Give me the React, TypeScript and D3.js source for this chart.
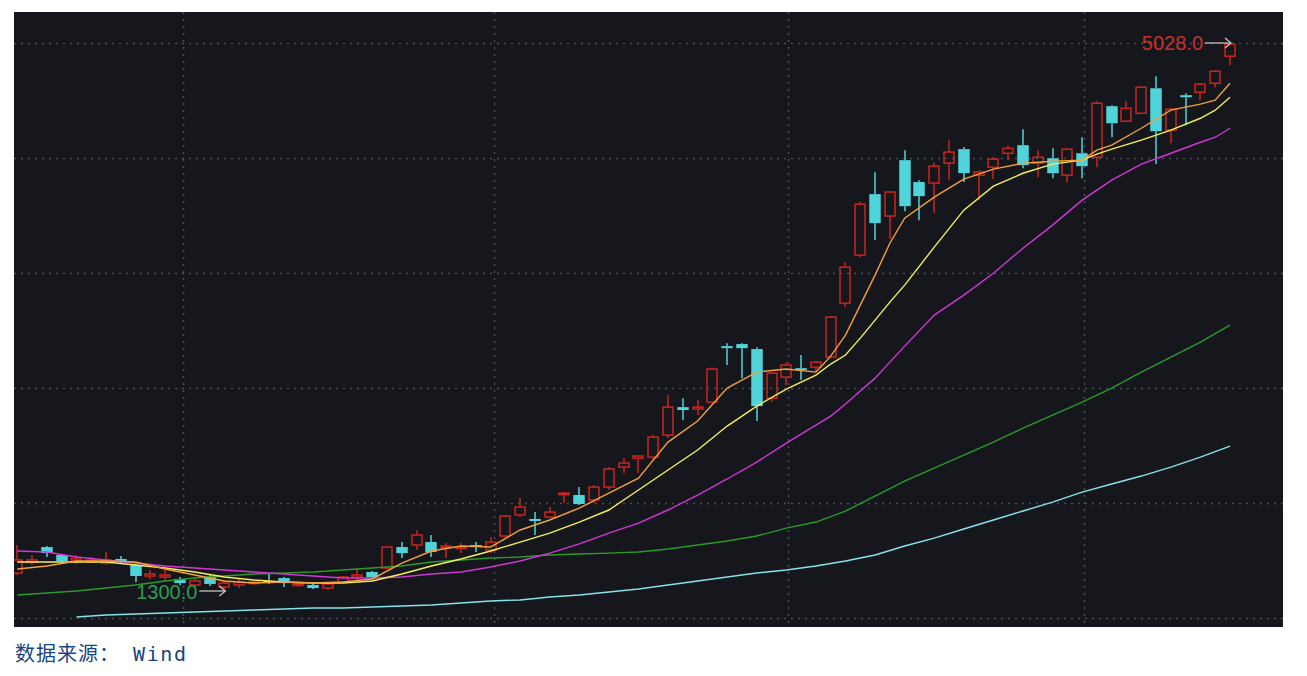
import React from "react";
import * as d3 from "d3";

// ---- Candle data (index 0..82) ----
const opens = [1422,1497,1599,1545,1504,1497,1490,1518,1477,1402,1395,1382,1341,1395,1327,1341,1354,1368,1388,1341,1341,1320,1361,1395,1429,1456,1599,1613,1633,1599,1592,1613,1579,1674,1817,1790,1803,1960,1953,1919,2007,2143,2204,2211,2361,2551,2538,2585,2966,2980,2946,2612,2755,2816,2823,2891,3258,3585,4000,3851,4231,4082,4075,4211,4306,4129,4183,4278,4333,4210,4244,4129,4278,4251,4598,4496,4550,4720,4435,4673,4693,4754,4938];
const highs = [1613,1545,1606,1552,1545,1531,1565,1538,1484,1443,1443,1395,1388,1409,1375,1382,1375,1422,1395,1361,1361,1354,1402,1456,1436,1606,1633,1715,1681,1627,1627,1633,1667,1817,1932,1837,1871,1973,2007,2021,2143,2204,2225,2361,2633,2612,2599,2823,2986,2986,2959,2789,2857,2905,2864,3170,3537,3946,4149,4020,4299,4095,4211,4367,4320,4163,4251,4333,4442,4299,4312,4312,4387,4632,4605,4632,4734,4802,4584,4686,4754,4843,5028];
const lows = [1409,1477,1531,1490,1484,1490,1477,1490,1361,1382,1361,1341,1327,1334,1300,1320,1341,1348,1327,1327,1313,1306,1354,1375,1375,1449,1524,1579,1531,1524,1558,1565,1558,1667,1803,1681,1796,1898,1885,1898,1987,2102,2102,2198,2340,2463,2497,2578,2837,2748,2456,2585,2701,2735,2789,2884,3231,3571,3687,3694,3884,3823,3871,4095,4082,3959,4102,4231,4176,4115,4108,4081,4108,4183,4387,4489,4544,4204,4346,4469,4639,4727,4877];
const closes = [1511,1511,1558,1504,1518,1511,1511,1497,1402,1416,1409,1354,1368,1348,1354,1361,1361,1361,1354,1348,1320,1348,1395,1409,1395,1599,1558,1681,1565,1606,1599,1599,1633,1810,1871,1776,1837,1966,1892,2007,2130,2170,2218,2347,2551,2531,2551,2810,2952,2952,2558,2782,2837,2803,2857,3163,3503,3932,3803,4014,3918,3986,4190,4286,4143,4150,4238,4312,4197,4251,4142,4306,4190,4618,4482,4584,4727,4428,4578,4659,4748,4836,5020];

// ---- Moving averages ----
const maShortIdx = [0,2,4,6,8,10,12,14,16,18,20,22,24,26,28,30,32,34,36,38,40,42,44,46,48,50,52,54,55,56,57,58,59,60,62,64,66,68,70,72,73,74,76,78,80,81,82];
const ma5 = [1450,1470,1504,1504,1497,1450,1409,1368,1354,1361,1354,1361,1382,1490,1572,1606,1599,1715,1783,1864,1966,2068,2313,2456,2680,2789,2810,2789,2898,3041,3245,3449,3666,3836,3979,4102,4170,4210,4224,4231,4299,4333,4448,4571,4612,4639,4754];
const ma10 = [1497,1497,1497,1497,1477,1456,1429,1395,1375,1361,1354,1354,1368,1416,1470,1518,1572,1633,1694,1769,1851,1987,2123,2259,2422,2558,2674,2769,2844,2905,3020,3143,3265,3381,3639,3891,4054,4142,4204,4231,4272,4306,4367,4435,4516,4571,4659];
const ma20 = [1572,1565,1531,1511,1490,1470,1456,1443,1429,1416,1402,1388,1388,1395,1416,1429,1463,1504,1558,1620,1694,1762,1851,1953,2062,2177,2306,2429,2490,2572,2660,2748,2857,2966,3177,3313,3462,3632,3789,3959,4027,4095,4204,4278,4353,4387,4448];
const ma60Idx = [0,2,4,6,8,10,12,14,16,18,20,22,24,26,28,30,32,34,36,38,40,42,44,46,48,50,52,54,56,58,60,62,64,66,68,70,72,74,76,78,80,82];
const ma60 = [1273,1286,1300,1320,1341,1368,1388,1402,1416,1422,1429,1443,1456,1470,1497,1511,1524,1531,1545,1552,1558,1565,1586,1613,1640,1674,1728,1769,1844,1946,2048,2136,2225,2313,2408,2497,2585,2680,2789,2891,2993,3109];
const ma120Idx = [4,6,8,10,12,14,16,18,20,22,24,26,28,30,32,34,36,38,40,42,44,46,48,50,52,54,56,58,60,62,64,66,68,70,72,74,76,78,80,82];
const ma120 = [1123,1137,1144,1150,1157,1164,1171,1178,1184,1184,1191,1198,1205,1218,1232,1239,1259,1273,1293,1314,1341,1368,1395,1422,1443,1470,1504,1545,1606,1660,1722,1783,1844,1905,1973,2028,2082,2143,2211,2286];

// ---- Grid ----
const gridValues = [5028, 4246, 3464, 2682, 1900, 1118];
const gridIdx = [11.2, 32.2, 52.1, 72.1];
const maxLabel = "5028.0";
const minLabel = "1300.0";
const maxValue = 5028;
const minValue = 1300;
const maxIdx = 82;
const minIdx = 14;
const sourceLabel = "数据来源：";
const sourceName = "Wind";

const W = 1307, H = 676;
const plot = { x: 14, y: 12, w: 1269, h: 615 };

export default function App() {
  const x = d3.scaleLinear().domain([0, 82]).range([17.3, 1230]);
  const y = d3.scaleLinear().domain([1300, 5028]).range([591, 43]);
  const bw = 10;

  const lineGen = (idx: number[], vals: number[]) =>
    d3.line<number>().x((_, i) => x(idx[i])).y((v) => y(v))(vals) || "";

  const mas = [
    { idx: ma120Idx, vals: ma120, color: "#86e3ea" },
    { idx: ma60Idx, vals: ma60, color: "#2a9a2a" },
    { idx: maShortIdx, vals: ma20, color: "#d236d6" },
    { idx: maShortIdx, vals: ma10, color: "#f4f05a" },
    { idx: maShortIdx, vals: ma5, color: "#f2a03c" },
  ];

  const red = "#cc241c";
  const teal = "#50d4da";

  return (
    <svg width={W} height={H} style={{ position: "absolute", left: 0, top: 0, background: "#fff" }}>
      <defs>
        <clipPath id="pc">
          <rect x={plot.x} y={plot.y} width={plot.w} height={plot.h} />
        </clipPath>
      </defs>
      <rect x={plot.x} y={plot.y} width={plot.w} height={plot.h} fill="#15171c" />
      <g clipPath="url(#pc)">
        {gridValues.map((v, i) => (
          <line key={"h" + i} x1={plot.x} x2={plot.x + plot.w} y1={Math.round(y(v)) + 0.5} y2={Math.round(y(v)) + 0.5}
            stroke="#4a4e57" strokeWidth={1.5} strokeDasharray="2 5" />
        ))}
        {gridIdx.map((v, i) => (
          <line key={"v" + i} x1={Math.round(x(v)) + 0.5} x2={Math.round(x(v)) + 0.5} y1={plot.y} y2={plot.y + plot.h}
            stroke="#4a4e57" strokeWidth={1.5} strokeDasharray="2 5" />
        ))}
        {opens.map((o, i) => {
          const c = closes[i];
          const up = c >= o;
          const cx = Math.round(x(i));
          const top = y(Math.max(o, c));
          const bot = y(Math.min(o, c));
          const col = up ? red : teal;
          const bh = Math.max(1.5, bot - top);
          return (
            <g key={"c" + i}>
              <line x1={cx} x2={cx} y1={y(highs[i])} y2={top} stroke={col} strokeWidth={1.5} />
              <line x1={cx} x2={cx} y1={top + bh} y2={y(lows[i])} stroke={col} strokeWidth={1.5} />
              {up ? (
                <rect x={cx - bw / 2} y={top} width={bw} height={bh} fill="none" stroke={col} strokeWidth={1.5} />
              ) : (
                <rect x={cx - bw / 2 - 0.75} y={top} width={bw + 1.5} height={bh} fill={col} />
              )}
            </g>
          );
        })}
        {mas.map((m, i) => (
          <path key={"m" + i} d={lineGen(m.idx, m.vals)} fill="none" stroke={m.color} strokeWidth={1.4} />
        ))}
      </g>
      {/* max label */}
      <text x={x(maxIdx) - 27} y={y(maxValue) + 7} textAnchor="end" fontFamily="Liberation Sans, Arial, sans-serif"
        fontSize={20} fill="#c8302a">{maxLabel}</text>
      <line x1={x(maxIdx) - 25} x2={x(maxIdx) + 1} y1={y(maxValue)} y2={y(maxValue)} stroke="#c4c4c4" strokeWidth={1.3} />
      <path d={`M${x(maxIdx) - 5},${y(maxValue) - 5} L${x(maxIdx) + 1},${y(maxValue)} L${x(maxIdx) - 5},${y(maxValue) + 5}`}
        fill="none" stroke="#c4c4c4" strokeWidth={1.3} />
      {/* min label */}
      <text x={x(minIdx) - 27} y={y(minValue) + 8} textAnchor="end" fontFamily="Liberation Sans, Arial, sans-serif"
        fontSize={20} fill="#2f9a52">{minLabel}</text>
      <line x1={x(minIdx) - 25} x2={x(minIdx) + 1} y1={y(minValue)} y2={y(minValue)} stroke="#c4c4c4" strokeWidth={1.3} />
      <path d={`M${x(minIdx) - 5},${y(minValue) - 5} L${x(minIdx) + 1},${y(minValue)} L${x(minIdx) - 5},${y(minValue) + 5}`}
        fill="none" stroke="#c4c4c4" strokeWidth={1.3} />
      <text x={15} y={661} fontSize={20} fill="#17457f" fontFamily="Noto Sans CJK SC, sans-serif" letterSpacing={1}>
        {sourceLabel}
      </text>
      <text x={133} y={661} fontSize={20} fill="#17457f" fontFamily="DejaVu Sans Mono, monospace" letterSpacing={1.6}>
        {sourceName}
      </text>
    </svg>
  );
}
